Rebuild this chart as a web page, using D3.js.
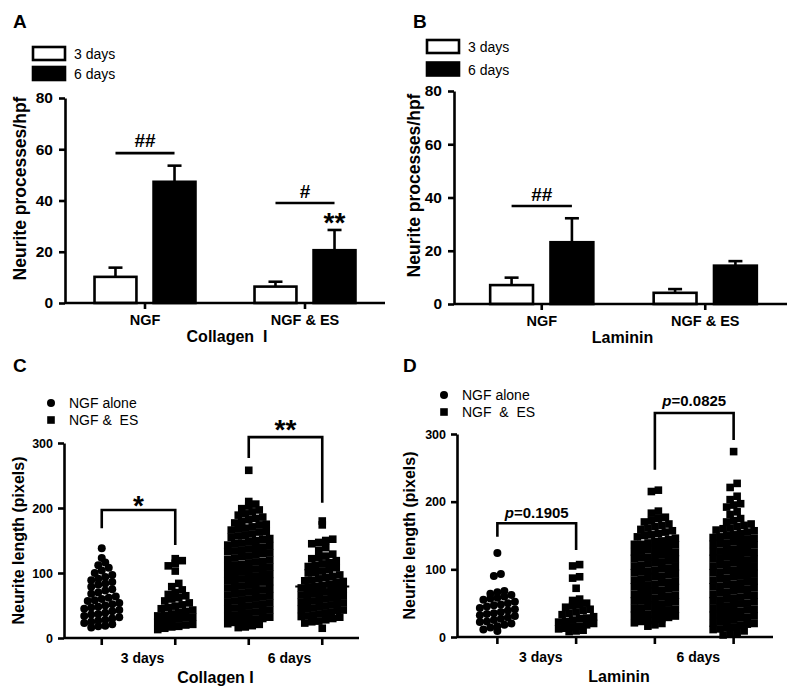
<!DOCTYPE html>
<html><head><meta charset="utf-8">
<script src="https://cdn.jsdelivr.net/npm/d3@7"></script>
<style>
body{margin:0;background:#fff}
svg{display:block}
text{font-family:"Liberation Sans",Arial,Helvetica,sans-serif;fill:#000;white-space:pre}
</style>
</head><body><svg id="chart" width="800" height="696"></svg>
<script>
// ---------------- DATA ----------------
const barCategories = ["NGF", "NGF & ES"];
const barSeries = ["3 days", "6 days"];
const barYTicks = [0, 20, 40, 60, 80];
// [category][series]
const collagenMean = [[10.2, 47.3], [6.4, 20.6]];
const collagenSEM  = [[3.6, 6.3], [1.9, 7.9]];
const lamininMean  = [[7.1, 23.2], [4.2, 14.4]];
const lamininSEM   = [[2.8, 9.0], [1.4, 1.7]];

const scatterCategories = ["3 days", "6 days"];
const scatterSeries = ["NGF alone", "NGF & ES"];
const scatterYTicks = [0, 100, 200, 300];

const collagenNGF3 = [138, 123, 116, 112, 108, 104, 100, 97, 94, 91, 89, 86, 84, 82, 79, 75, 73, 70, 68,
  64, 62, 60, 58, 57, 54, 52, 50, 48, 47, 45, 43, 41, 39, 37, 36, 34, 32, 30, 28, 27, 25, 23, 21, 19, 18, 16];
const collagenES3 = [122, 119, 115, 111, 103, 84, 79, 74, 70, 67, 65, 62, 60, 57, 54, 51, 49, 47, 45,
  43, 41, 39, 37, 35, 34, 32, 31, 29, 27, 25, 24, 21, 20, 18, 17, 15, 13];
const collagenNGF6 = [258, 210, 206, 203, 199, 197, 194, 191, 189, 186, 184, 182, 179, 177,
  175, 174, 171, 169, 168, 166, 164, 163, 160, 158, 157, 155, 153, 152, 150, 148, 146, 145, 143,
  142, 140, 139, 137, 135, 134, 133, 131, 130, 128, 126, 125, 123, 121, 120, 118, 117, 115, 113, 112, 110,
  109, 107, 106, 104, 102, 101, 99, 98, 96, 95, 93, 91, 90, 88, 87, 86, 84, 82, 80, 79, 77,
  76, 74, 73, 71, 69, 68, 66, 65, 63, 62, 60, 58, 57, 55, 54, 52, 51, 49, 47, 46, 44,
  43, 41, 40, 38, 36, 35, 33, 32, 30, 29, 27, 25, 24, 22, 21, 19, 17, 16];
const collagenES6 = [180, 174, 152, 150, 147, 145, 139, 135, 129, 126, 124, 122, 119, 116, 114, 112, 110,
  108, 105, 103, 101, 100, 97, 95, 93, 91, 89, 88, 87, 85, 83, 81, 79, 78, 77, 76, 75, 73, 71, 70, 68, 67, 66,
  65, 64, 62, 60, 59, 57, 56, 55, 54, 53, 51, 49, 48, 46, 45, 44, 43, 42, 40, 38, 37, 35, 34, 33,
  32, 30, 28, 26, 25, 23, 15];

const lamininNGF3 = [124, 93, 90, 68, 66, 64, 62, 60, 58, 57, 55, 52, 50, 48, 47, 45, 43, 41, 39, 37, 35, 34, 32,
  31, 29, 27, 25, 23, 22, 20, 18, 16, 14, 11, 9];
const lamininES3 = [107, 105, 89, 87, 72, 56, 54, 50, 48, 46, 44, 41, 39, 37, 35, 33, 30, 28, 27, 25, 23, 22,
  20, 18, 16, 15, 13, 12, 10, 9, 8];
const lamininNGF6 = [217, 215, 186, 183, 177, 175, 172, 170, 167, 165, 163, 161, 159, 157, 155, 153, 151, 150, 148,
  146, 144, 142, 141, 139, 137, 137, 136, 134, 132, 131, 129, 127, 126, 125, 123, 122, 120, 118, 117, 116,
  115, 113, 111, 110, 108, 106, 105, 104, 102, 101, 99, 97, 96, 95, 94, 92, 90, 89, 87, 85, 84,
  83, 81, 80, 78, 76, 75, 74, 73, 71, 69, 68, 66, 64, 63, 62, 60, 59, 57, 55, 54, 53,
  52, 50, 48, 47, 45, 43, 42, 41, 39, 38, 36, 34, 33, 32, 31, 29, 27, 26, 24, 23, 21, 20, 18, 16];
const lamininES6 = [274, 227, 221, 208, 203, 197, 195, 192, 185, 181, 175, 172, 170, 167, 165, 163, 161, 160, 158,
  157, 155, 153, 151, 150, 148, 147, 146, 144, 143, 141, 139, 138, 137, 136, 134, 132, 130, 129, 127, 126,
  125, 124, 122, 120, 119, 117, 116, 115, 113, 112, 110, 108, 107, 105, 104, 103, 101, 99, 98, 96, 95,
  94, 92, 91, 89, 87, 86, 84, 83, 82, 80, 78, 77, 75, 74, 73, 71, 70, 68, 66, 65, 63,
  62, 61, 59, 57, 56, 54, 53, 52, 50, 49, 47, 45, 44, 42, 41, 40, 38, 36, 35, 33, 32,
  31, 29, 28, 26, 24, 23, 21, 20, 19, 17, 15, 14, 12, 11, 9, 7, 5, 3];

// ---------------- DRAWING ----------------
const svg = d3.select("#chart");

function txt(g, x, y, s, size, weight, anchor) {
  return g.append("text").attr("x", x).attr("y", y).text(s)
    .attr("font-size", size).attr("font-weight", weight || "normal")
    .attr("text-anchor", anchor || "start");
}
function styleAxis(a, size) {
  a.attr("font-family", null).attr("font-size", null);
  a.select(".domain").attr("stroke", "#000").attr("stroke-width", 2.6);
  a.selectAll(".tick line").attr("stroke", "#000").attr("stroke-width", 2.6);
  a.selectAll(".tick text").attr("font-size", size).attr("font-weight", "bold").attr("fill", "#000");
}

function drawBarPanel(o) {
  const g = svg.append("g");
  const xCat = d3.scaleBand().domain(barCategories).range(o.xRange);
  const xSer = d3.scaleBand().domain(barSeries).range([0, xCat.bandwidth()]).paddingInner(0.29).paddingOuter(0.5);
  const y = d3.scaleLinear().domain([0, 80]).range([o.yBottom, o.yTop]);
  const rows = [];
  barCategories.forEach((c, i) => barSeries.forEach((s, j) => rows.push({c, s, m: o.mean[i][j], e: o.sem[i][j]})));
  const bx = d => xCat(d.c) + xSer(d.s) + xSer.bandwidth() / 2;

  // error bars
  g.selectAll("line.err").data(rows).join("line")
    .attr("x1", bx).attr("x2", bx).attr("y1", d => y(d.m)).attr("y2", d => y(d.m + d.e))
    .attr("stroke", "#000").attr("stroke-width", 2.6);
  g.selectAll("line.cap").data(rows).join("line")
    .attr("x1", d => bx(d) - 7).attr("x2", d => bx(d) + 7).attr("y1", d => y(d.m + d.e)).attr("y2", d => y(d.m + d.e))
    .attr("stroke", "#000").attr("stroke-width", 2.6);
  // bars
  g.selectAll("rect.bar").data(rows).join("rect")
    .attr("x", d => xCat(d.c) + xSer(d.s)).attr("width", xSer.bandwidth())
    .attr("y", d => y(d.m)).attr("height", d => y(0) - y(d.m))
    .attr("fill", d => d.s === barSeries[0] ? "#fff" : "#000")
    .attr("stroke", "#000").attr("stroke-width", 2.6);

  // y axis
  const ya = g.append("g").attr("transform", `translate(${o.axisX},0)`)
    .call(d3.axisLeft(y).tickValues(barYTicks).tickSize(6).tickPadding(6).tickSizeOuter(0));
  styleAxis(ya, 15.5);
  // x axis
  g.append("line").attr("x1", o.axisX).attr("x2", o.xRange[1]).attr("y1", y(0)).attr("y2", y(0))
    .attr("stroke", "#000").attr("stroke-width", 2.6);
  barCategories.forEach(c => {
    const cx = xCat(c) + xCat.bandwidth() / 2;
    g.append("line").attr("x1", cx).attr("x2", cx).attr("y1", y(0)).attr("y2", y(0) + 6)
      .attr("stroke", "#000").attr("stroke-width", 2.6);
    txt(g, cx, y(0) + 22, c, 14.5, "bold", "middle");
  });
  txt(g, (o.axisX + o.xRange[1]) / 2 + 2, y(0) + 39, o.title, 16, "bold", "middle");
  // y title
  g.append("text").attr("transform", `translate(${o.yTitleX},${(o.yTop + o.yBottom) / 2 - 12}) rotate(-90)`)
    .attr("text-anchor", "middle").attr("font-size", 17.5).attr("font-weight", "bold").text("Neurite processes/hpf");
  // significance
  o.sig.forEach(s => {
    const x1 = xCat(s.cat) + xSer(barSeries[0]) + xSer.bandwidth() / 2;
    const x2 = xCat(s.cat) + xSer(barSeries[1]) + xSer.bandwidth() / 2;
    g.append("line").attr("x1", x1).attr("x2", x2).attr("y1", y(s.line)).attr("y2", y(s.line))
      .attr("stroke", "#000").attr("stroke-width", 2.6);
    txt(g, (x1 + x2) / 2, y(s.text) + 6.5, s.label, 19, "bold", "middle");
  });
  o.stars.forEach(s => {
    const cx = xCat(s.cat) + xSer(s.ser) + xSer.bandwidth() / 2;
    txt(g, cx, y(s.text) + 16, s.label, 28, "bold", "middle");
  });
  // legend
  const L = o.legend;
  barSeries.forEach((s, i) => {
    g.append("rect").attr("x", L.x).attr("y", L.y + i * L.dy).attr("width", 32).attr("height", 13)
      .attr("fill", i === 0 ? "#fff" : "#000").attr("stroke", "#000").attr("stroke-width", 2.6);
    txt(g, L.x + 41, L.y + i * L.dy + 12, s, 14, "normal", "start");
  });
  txt(g, o.letter[0], o.letter[1], o.letterText, 19, "bold", "start");
}

function rowLayout(values, bin, spacing, maxSpan) {
  const bins = d3.group(values, v => Math.floor(v / bin));
  const out = [];
  for (const [, vals] of bins) {
    const sorted = vals.slice().sort((a, b) => a - b);
    const n = sorted.length;
    const sp = n > 1 ? Math.min(spacing, maxSpan / (n - 1)) : 0;
    sorted.forEach((v, i) => out.push({v, dx: (i - (n - 1) / 2) * sp}));
  }
  return out;
}

function drawScatterPanel(o) {
  const g = svg.append("g");
  const xCat = d3.scaleBand().domain(scatterCategories).range(o.xRange);
  const xSer = d3.scalePoint().domain(scatterSeries).range([0, xCat.bandwidth()]).padding(0.5);
  const y = d3.scaleLinear().domain([0, 300]).range([o.yBottom, o.yTop]);
  const pos = (c, s) => xCat(c) + xSer(s);

  o.groups.forEach(grp => {
    const cx = pos(grp.cat, grp.ser);
    const pts = rowLayout(grp.values, o.bin, 7, o.maxSpan);
    if (grp.shape === "circle") {
      g.append("g").selectAll("circle").data(pts).join("circle")
        .attr("cx", d => cx + d.dx).attr("cy", d => y(d.v)).attr("r", 4).attr("fill", "#000");
    } else {
      g.append("g").selectAll("rect").data(pts).join("rect")
        .attr("x", d => cx + d.dx - 3.8).attr("y", d => y(d.v) - 3.8)
        .attr("width", 7.6).attr("height", 7.6).attr("fill", "#000");
    }
    if (grp.mean) {
      const m = d3.mean(grp.values);
      g.append("line").attr("x1", cx - 27).attr("x2", cx + 27).attr("y1", y(m)).attr("y2", y(m))
        .attr("stroke", "#000").attr("stroke-width", 2);
    }
  });

  const ya = g.append("g").attr("transform", `translate(${o.axisX},0)`)
    .call(d3.axisLeft(y).tickValues(scatterYTicks).tickSize(6).tickPadding(5).tickSizeOuter(0));
  styleAxis(ya, 12.5);
  g.append("line").attr("x1", o.axisX).attr("x2", o.xRange[1]).attr("y1", y(0)).attr("y2", y(0))
    .attr("stroke", "#000").attr("stroke-width", 2.6);
  scatterCategories.forEach(c => {
    scatterSeries.forEach(s => {
      g.append("line").attr("x1", pos(c, s)).attr("x2", pos(c, s)).attr("y1", y(0)).attr("y2", y(0) + 7)
        .attr("stroke", "#000").attr("stroke-width", 2.6);
    });
    txt(g, xCat(c) + xCat.bandwidth() / 2 + 4, y(0) + 25, c, 14, "bold", "middle");
  });
  txt(g, (o.axisX + o.xRange[1]) / 2 + 4, y(0) + 45, o.title, 16, "bold", "middle");
  g.append("text").attr("transform", `translate(${o.yTitleX},${(o.yTop + o.yBottom) / 2 + 0}) rotate(-90)`)
    .attr("text-anchor", "middle").attr("font-size", 16).attr("font-weight", "bold").text("Neurite length (pixels)");

  // brackets
  o.brackets.forEach(b => {
    const x1 = pos(b.cat, scatterSeries[0]), x2 = pos(b.cat, scatterSeries[1]);
    g.append("path").attr("d", `M${x1},${y(b.left)}V${y(b.top)}H${x2}V${y(b.right)}`)
      .attr("fill", "none").attr("stroke", "#000").attr("stroke-width", 2.6);
    if (b.p) {
      const t = g.append("text").attr("x", (x1 + x2) / 2).attr("y", y(b.text) + 5)
        .attr("text-anchor", "middle").attr("font-size", 15).attr("font-weight", "bold");
      t.append("tspan").attr("font-style", "italic").text("p");
      t.append("tspan").text(b.p);
    } else {
      txt(g, (x1 + x2) / 2, y(b.text) + 16, b.label, 28, "bold", "middle");
    }
  });
  // legend
  const L = o.legend;
  g.append("circle").attr("cx", L.x).attr("cy", L.y).attr("r", 4).attr("fill", "#000");
  g.append("rect").attr("x", L.x - 3.8).attr("y", L.y + L.dy - 3.8).attr("width", 7.6).attr("height", 7.6).attr("fill", "#000");
  txt(g, L.tx, L.y + 5, scatterSeries[0], 14, "normal", "start");
  txt(g, L.tx, L.y + L.dy + 5, L.esLabel, 14, "normal", "start");
  txt(g, o.letter[0], o.letter[1], o.letterText, 19, "bold", "start");
}

drawBarPanel({
  mean: collagenMean, sem: collagenSEM, xRange: [65, 385], axisX: 65, yTop: 98, yBottom: 303,
  title: "Collagen  I", yTitleX: 25.5,
  sig: [{cat: "NGF", line: 58.5, text: 63.6, label: "##"}, {cat: "NGF & ES", line: 39, text: 43.5, label: "#"}],
  stars: [{cat: "NGF & ES", ser: "6 days", text: 33.8, label: "**"}],
  legend: {x: 33, y: 47, dy: 20}, letter: [13, 28], letterText: "A"
});
drawBarPanel({
  mean: lamininMean, sem: lamininSEM, xRange: [460, 787], axisX: 454, yTop: 91, yBottom: 304,
  title: "Laminin", yTitleX: 420,
  sig: [{cat: "NGF", line: 36.8, text: 41.3, label: "##"}],
  stars: [],
  legend: {x: 427, y: 40, dy: 22.5}, letter: [413, 28], letterText: "B"
});
drawScatterPanel({
  xRange: [65, 359], axisX: 64, yTop: 443, yBottom: 638, bin: 11, maxSpan: 42,
  title: "Collagen I", yTitleX: 23.5,
  groups: [
    {cat: "3 days", ser: "NGF alone", values: collagenNGF3, shape: "circle"},
    {cat: "3 days", ser: "NGF & ES", values: collagenES3, shape: "square"},
    {cat: "6 days", ser: "NGF alone", values: collagenNGF6, shape: "square"},
    {cat: "6 days", ser: "NGF & ES", values: collagenES6, shape: "square", mean: true}
  ],
  brackets: [
    {cat: "3 days", top: 197, left: 169, right: 143, text: 214, label: "*"},
    {cat: "6 days", top: 309, left: 277, right: 208, text: 331, label: "**"}
  ],
  legend: {x: 51, y: 403, dy: 17, tx: 69, esLabel: "NGF &  ES"}, letter: [13, 372], letterText: "C"
});
drawScatterPanel({
  xRange: [458, 773], axisX: 457, yTop: 434, yBottom: 637, bin: 10.5, maxSpan: 41,
  title: "Laminin", yTitleX: 414.5,
  groups: [
    {cat: "3 days", ser: "NGF alone", values: lamininNGF3, shape: "circle"},
    {cat: "3 days", ser: "NGF & ES", values: lamininES3, shape: "square"},
    {cat: "6 days", ser: "NGF alone", values: lamininNGF6, shape: "square"},
    {cat: "6 days", ser: "NGF & ES", values: lamininES6, shape: "square"}
  ],
  brackets: [
    {cat: "3 days", top: 168, left: 148, right: 128.5, text: 183, p: "=0.1905"},
    {cat: "6 days", top: 331, left: 247, right: 291, text: 349, p: "=0.0825"}
  ],
  legend: {x: 444, y: 395, dy: 17, tx: 462, esLabel: "NGF  &  ES"}, letter: [403, 372], letterText: "D"
});
</script>
</body></html>
